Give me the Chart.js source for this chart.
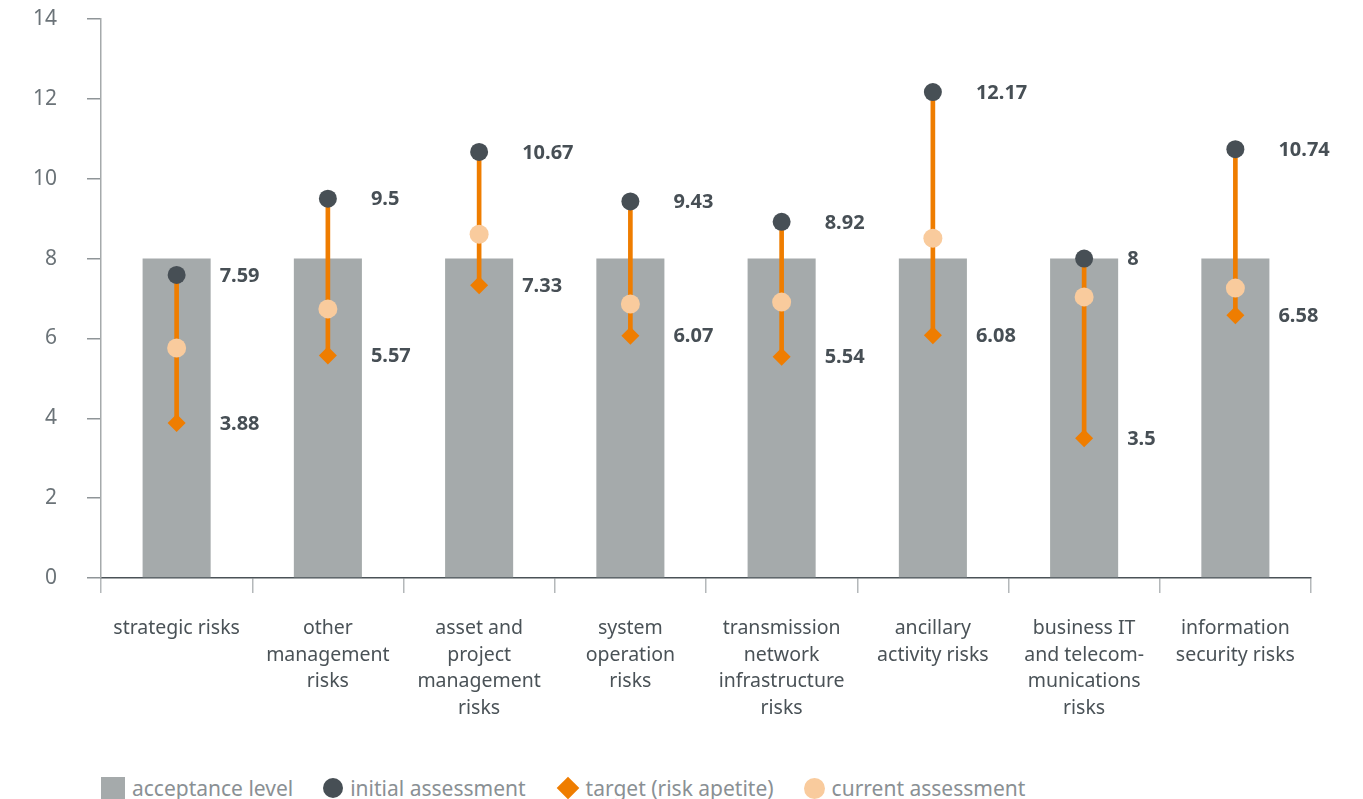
<!DOCTYPE html>
<html>
<head>
<meta charset="utf-8">
<script src="https://cdn.jsdelivr.net/npm/chart.js@4.4.1/dist/chart.umd.min.js"></script>
<style>
  html, body { margin: 0; padding: 0; background: #fff; overflow: hidden; }
  #wrap { position: relative; width: 1363px; height: 799px; }
  #legend {
    position: absolute; left: 101px; top: 774px;
    display: flex; align-items: center;
    font-family: "Noto Sans", sans-serif; font-size: 21px; color: #8a9094;
    white-space: nowrap;
  }
  #legend .item { display: flex; align-items: center; margin-right: 30px; }
  #legend .mk { margin-right: 7px; flex: none; }
</style>
</head>
<body>
<div id="wrap">
  <canvas id="riskChart" width="1363" height="770"></canvas>
  <div id="legend"></div>
</div>
<script>
// Data
const categories = [
    ['strategic risks'],
    ['other', 'management', 'risks'],
    ['asset and', 'project', 'management', 'risks'],
    ['system', 'operation', 'risks'],
    ['transmission', 'network', 'infrastructure', 'risks'],
    ['ancillary', 'activity risks'],
    ['business IT', 'and telecom-', 'munications', 'risks'],
    ['information', 'security risks']
];
const acceptanceLevel = [8, 8, 8, 8, 8, 8, 8, 8];
const initialAssessment = [7.59, 9.5, 10.67, 9.43, 8.92, 12.17, 8, 10.74];
const targetRiskApetite = [3.88, 5.57, 7.33, 6.07, 5.54, 6.08, 3.5, 6.58];
const currentAssessment = [5.76, 6.74, 8.61, 6.86, 6.91, 8.51, 7.04, 7.26];

const GREY_BAR = '#a5aaab';
const DARK = '#474f55';
const ORANGE = '#ef7d00';
const PEACH = '#f9cb9d';

// value labels next to the initial and target markers
const valueLabels = {
    id: 'valueLabels',
    afterDatasetsDraw(chart) {
        const ctx = chart.ctx;
        ctx.save();
        ctx.font = 'bold 20px "Noto Sans"';
        ctx.fillStyle = DARK;
        ctx.textAlign = 'left';
        ctx.textBaseline = 'middle';
        [2, 3].forEach(idx => {
            const ds = chart.data.datasets[idx];
            chart.getDatasetMeta(idx).data.forEach((pt, i) => {
                ctx.fillText(String(ds.data[i]), pt.x + 43, pt.y + 1);
            });
        });
        ctx.restore();
    }
};

document.addEventListener("DOMContentLoaded", function () {
    const ctx = document.getElementById('riskChart').getContext('2d');
    const chart = new Chart(ctx, {
        type: 'bar',
        data: {
            labels: categories,
            datasets: [
                {
                    label: 'acceptance level',
                    data: acceptanceLevel,
                    backgroundColor: GREY_BAR,
                    barPercentage: 0.45,
                    categoryPercentage: 1,
                    grouped: false,
                    order: 5
                },
                {
                    label: 'range',
                    data: initialAssessment.map((v, i) => [targetRiskApetite[i], v]),
                    backgroundColor: ORANGE,
                    barThickness: 4,
                    grouped: false,
                    order: 4
                },
                {
                    type: 'line',
                    label: 'initial assessment',
                    data: initialAssessment,
                    showLine: false,
                    pointRadius: 9,
                    pointBackgroundColor: DARK,
                    pointBorderWidth: 0,
                    order: 1
                },
                {
                    type: 'line',
                    label: 'target (risk apetite)',
                    data: targetRiskApetite,
                    showLine: false,
                    pointStyle: 'rectRot',
                    pointRadius: 9,
                    pointBackgroundColor: ORANGE,
                    pointBorderWidth: 0,
                    order: 3
                },
                {
                    type: 'line',
                    label: 'current assessment',
                    data: currentAssessment,
                    showLine: false,
                    pointRadius: 9.5,
                    pointBackgroundColor: PEACH,
                    pointBorderWidth: 0,
                    order: 2
                }
            ]
        },
        options: {
            responsive: false,
            animation: false,
            layout: { padding: { top: 19, left: 30, right: 52, bottom: 0 } },
            plugins: {
                legend: { display: false },
                tooltip: { enabled: false }
            },
            scales: {
                x: {
                    offset: true,
                    grid: {
                        drawOnChartArea: false,
                        drawTicks: true,
                        tickLength: 15,
                        color: '#b4b8ba',
                        lineWidth: 1.5
                    },
                    border: { color: '#4a5257', width: 1.5 },
                    ticks: {
                        color: '#4a5257',
                        font: { family: 'Noto Sans', size: 19.5, lineHeight: 1.37 },
                        padding: 22,
                        maxRotation: 0,
                        autoSkip: false
                    },
                    afterFit(scale) { scale.height = 192; }
                },
                y: {
                    min: 0,
                    max: 14,
                    ticks: {
                        stepSize: 2,
                        color: '#6b7378',
                        font: { family: 'Noto Sans', size: 21 },
                        padding: 30
                    },
                    grid: {
                        drawOnChartArea: false,
                        drawTicks: true,
                        tickLength: 14,
                        color: '#8f9598',
                        lineWidth: 1.5
                    },
                    border: { color: '#a5aaab', width: 1.5 },
                    afterFit(scale) {
                        scale.width = 71;
                        scale.paddingTop = 0;
                        scale.paddingBottom = 0;
                    }
                }
            }
        },
        plugins: [valueLabels]
    });

    // legend built from the chart's datasets
    const legendEl = document.getElementById('legend');
    const markers = {
        'acceptance level': '<div class="mk" style="width:24px;height:22px;background:' + GREY_BAR + '"></div>',
        'initial assessment': '<div class="mk" style="width:20px;height:20px;border-radius:50%;background:' + DARK + '"></div>',
        'target (risk apetite)': '<div class="mk" style="width:16px;height:16px;margin:0 10px 0 4px;transform:rotate(45deg);background:' + ORANGE + '"></div>',
        'current assessment': '<div class="mk" style="width:21px;height:21px;border-radius:50%;background:' + PEACH + '"></div>'
    };
    [0, 2, 3, 4].forEach(i => {
        const label = chart.data.datasets[i].label;
        const item = document.createElement('div');
        item.className = 'item';
        item.innerHTML = markers[label] + '<span>' + label + '</span>';
        legendEl.appendChild(item);
    });
});
</script>
</body>
</html>
